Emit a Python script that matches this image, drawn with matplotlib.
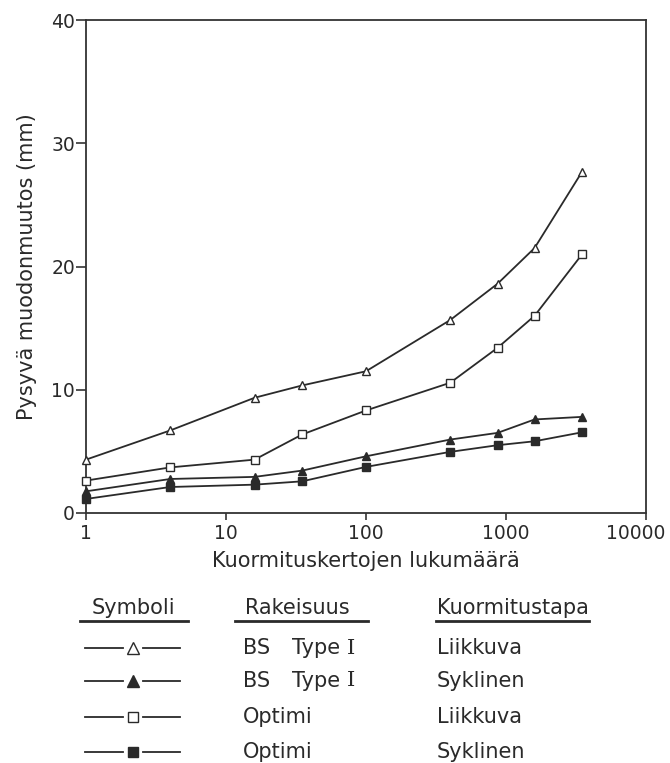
import numpy as np
import matplotlib
matplotlib.use('Agg')
import matplotlib.pyplot as plt
import matplotlib.transforms as mtransforms

# Kuormituskertojen lukumäärä
kerrat = [1, 4, 16, 35, 100, 400, 870, 1600, 3500]

# Pysyvä muodonmuutos (mm)
bs_liikkuva = [4.33, 6.7, 9.35, 10.35, 11.5, 15.66, 18.6, 21.5, 27.7]
bs_syklinen = [1.76, 2.76, 2.93, 3.44, 4.6, 5.96, 6.5, 7.59, 7.8]
opt_liikkuva = [2.63, 3.7, 4.33, 6.37, 8.32, 10.57, 13.4, 16.0, 21.0]
opt_syklinen = [1.14, 2.11, 2.3, 2.57, 3.74, 4.96, 5.5, 5.82, 6.55]

x_ticks = [1, 10, 100, 1000, 10000]
x_ticklabels = ['1', '10', '100', '1000', '10000']
y_ticks = [0, 10, 20, 30, 40]

rakeisuus = ['BS Type I', 'BS Type I', 'Optimi', 'Optimi']
kuormitustapa = ['Liikkuva', 'Syklinen', 'Liikkuva', 'Syklinen']

INK = '#2a2a2a'
W, H = 670, 763

plt.rcParams.update({'font.family': 'DejaVu Sans', 'text.color': INK,
                     'axes.edgecolor': '#333333', 'xtick.color': '#333333',
                     'ytick.color': '#333333'})

fig = plt.figure(figsize=(W / 100, H / 100), dpi=100)
ax = fig.add_axes([86 / W, 1 - 513 / H, (646 - 86) / W, (513 - 20) / H])

series = [
    (bs_liikkuva, '^', 'white'),
    (bs_syklinen, '^', INK),
    (opt_liikkuva, 's', 'white'),
    (opt_syklinen, 's', INK),
]
for vals, mk, fc in series:
    ax.plot(kerrat, vals, color=INK, linewidth=1.3, marker=mk,
            markersize=6 if mk == '^' else 5.2, markerfacecolor=fc,
            markeredgecolor=INK, markeredgewidth=1.0, clip_on=False, zorder=3)

ax.set_xscale('log')
ax.set_xlim(1, 10000)
ax.set_ylim(0, 40)
ax.set_xticks(x_ticks)
ax.set_xticklabels(x_ticklabels)
ax.xaxis.set_minor_locator(matplotlib.ticker.NullLocator())
ax.set_yticks(y_ticks)
ax.tick_params(axis='y', direction='out', length=7, width=1.2, pad=1, labelsize=13.5,
               labelcolor=INK)
ax.tick_params(axis='x', direction='out', length=5, width=1.2, pad=3, labelsize=13.5,
               labelcolor=INK)
for s in ax.spines.values():
    s.set_linewidth(1.3)

# viimeinen x-otsake hieman vasemmalle, kuten alkuperäisessä
last = ax.get_xticklabels()[-1]
last.set_transform(last.get_transform() +
                   mtransforms.ScaledTranslation(-0.1, 0, fig.dpi_scale_trans))

ax.set_xlabel('Kuormituskertojen lukumäärä', fontsize=15, labelpad=6, color=INK)
ax.set_ylabel('Pysyvä muodonmuutos (mm)', fontsize=15, labelpad=10, color=INK)

# selitetaulukko kuvan alla (pikselikoordinaatit)
lg = fig.add_axes([0, 0, 1, 1])
lg.set_xlim(0, W)
lg.set_ylim(H, 0)
lg.axis('off')
lg.patch.set_alpha(0)

fs = 15
lg.text(133, 608, 'Symboli', fontsize=fs, ha='center', va='center')
lg.text(245, 608, 'Rakeisuus', fontsize=fs, ha='left', va='center')
lg.text(437, 608, 'Kuormitustapa', fontsize=fs, ha='left', va='center')
for x0, x1 in [(80, 188), (235, 368), (436, 589)]:
    lg.plot([x0, x1], [621, 621], color=INK, linewidth=2)

rows_y = [648, 681, 717, 752]
for (vals, mk, fc), ry, rk, kt in zip(series, rows_y, rakeisuus, kuormitustapa):
    lg.plot([85, 123], [ry, ry], color=INK, linewidth=1.3)
    lg.plot([143, 180], [ry, ry], color=INK, linewidth=1.3)
    lg.plot([133], [ry], marker=mk, markersize=8 if mk == '^' else 7,
            markerfacecolor=fc, markeredgecolor=INK, markeredgewidth=1.0)
    if rk.startswith('BS'):
        lg.text(243, ry, 'BS', fontsize=fs, ha='left', va='center')
        lg.text(292, ry, 'Type', fontsize=fs, ha='left', va='center')
        lg.text(347, ry, 'I', fontsize=fs, ha='left', va='center',
                family='DejaVu Serif')
    else:
        lg.text(243, ry, rk, fontsize=fs, ha='left', va='center')
    lg.text(437, ry, kt, fontsize=fs, ha='left', va='center')

fig.savefig('out.png', dpi=100, facecolor='white')
